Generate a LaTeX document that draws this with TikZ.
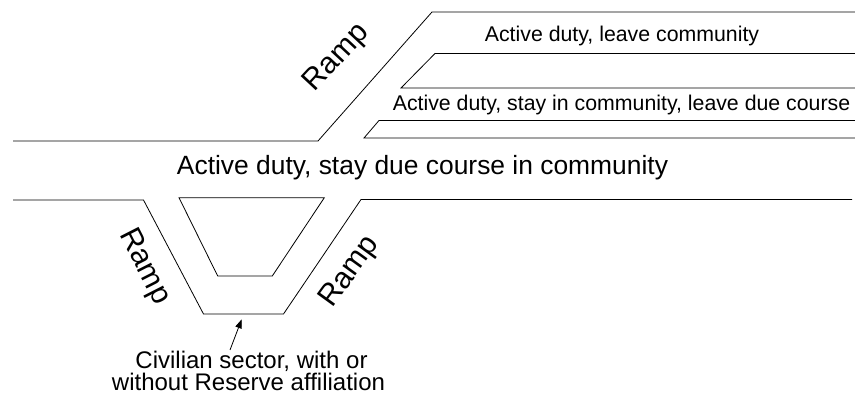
\documentclass[tikz,border=0pt]{standalone}
\usepackage{fontspec}
\setmainfont{Liberation Sans}
\usetikzlibrary{arrows.meta}
\tikzset{
  road/.style={draw=black, line width=0.8pt, line join=miter},
  lbl/.style={inner sep=0pt, anchor=base, text=black},
  big/.style={font=\fontsize{26.4}{30}\selectfont},
  mid/.style={font=\fontsize{21.3}{25}\selectfont},
  sml/.style={font=\fontsize{24}{28}\selectfont},
  ramplbl/.style={inner sep=0pt, anchor=center, font=\fontsize{30}{34}\selectfont},
  ptr/.style={draw=black, line width=0.8pt, -{Triangle[length=9pt,width=6.5pt]}}
}
\begin{document}
\begin{tikzpicture}[x=1pt,y=-1pt]
\useasboundingbox (0,0) rectangle (855,398);
% upper roads
\draw[road] (13,141) -- (318,141) -- (432,12) -- (855,12);
\draw[road] (855,53.5) -- (435,53.5) -- (401,88) -- (855,88);
\draw[road] (855,120.5) -- (379,120.5) -- (364,138) -- (855,138);
% lower roads
\draw[road] (13,200) -- (143.5,200) -- (203.5,314) -- (283.5,314) -- (361,199.5) -- (852,199.5);
\draw[road] (179,197.7) -- (324.3,197.7) -- (272.3,276) -- (217.7,276) -- cycle;
% labels
\node[lbl, mid] (leave) at (622,41.5) {Active duty, leave community};
\node[lbl, mid] (stayleave) at (621.5,111) {Active duty, stay in community, leave due course};
\node[lbl, big] (stay) at (422.5,175) {Active duty, stay due course in community};
\node[lbl, sml] (civ1) at (251.5,368.3) {Civilian sector, with or};
\node[lbl, sml] (civ2) at (248.5,390) {without Reserve affiliation};
\node[ramplbl, rotate=47] (rampA) at (337,58) {Ramp};
\node[ramplbl, rotate=-63] (rampB) at (144,267) {Ramp};
\node[ramplbl, rotate=54] (rampC) at (350,272) {Ramp};
% pointer
\coordinate (ptrstart) at (230,350);
\coordinate (ptrtip) at (241.7,319.3);
\draw[ptr] (ptrstart) -- (ptrtip);
\end{tikzpicture}
\end{document}
